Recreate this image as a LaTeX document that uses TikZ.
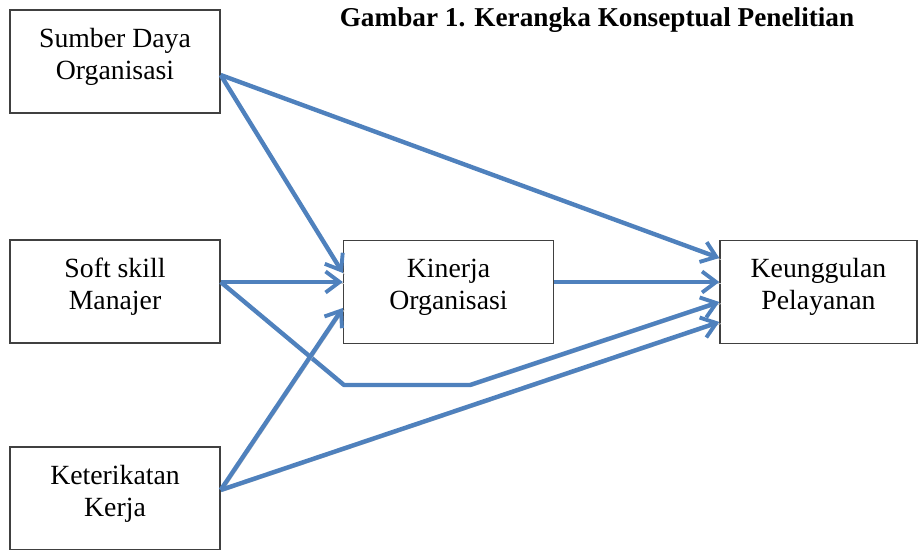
\documentclass[tikz,border=0pt]{standalone}
\usepackage{fontspec}
\setmainfont{Liberation Serif}
\usetikzlibrary{arrows.meta,calc}
\definecolor{linkblue}{HTML}{4F81BD}

\begin{document}
\begin{tikzpicture}[
    x=0.02cm, y=-0.02cm,
    box/.style={
        draw=black!75,
        line width=0.8pt,
        minimum width=4.2cm,
        minimum height=2.06cm,
        align=center,
        font=\fontsize{15.8}{18.1}\selectfont
    },
    link/.style={
        -{Straight Barb[length=8pt, width=12pt, line width=2.2pt]},
        line width=2.5pt, draw=linkblue, line join=round,
        preaction={draw=black!22, -, transform canvas={shift={(0.9pt,-0.9pt)}}}
    }
]
    \useasboundingbox (0,0) rectangle (918,550);

    \node[font=\fontsize{15.5}{18}\selectfont\bfseries] (judul) at (597,20) {Gambar 1. Kerangka Konseptual Penelitian};

    \node[box] (sdo) at (115,61.5) {Sumber Daya\\Organisasi\\[-9pt]};
    \node[box] (soft) at (115,291.5) {Soft skill\\Manajer\\[-9pt]};
    \node[box] (kerja) at (115,498.5) {Keterikatan\\Kerja\\[-9pt]};
    \node[box] (kinerja) at (448.5,292) {Kinerja\\Organisasi\\[-9pt]};
    \node[box, minimum width=3.94cm] (unggul) at (818.5,292) {Keunggulan\\Pelayanan\\[-9pt]};

    \coordinate (belok1) at (344,385);
    \coordinate (belok2) at (470,385);

    \draw[link] ($(sdo.east)+(0,13.5)$) -- ($(kinerja.west)+(0,-19)$);
    \draw[link] ($(sdo.east)+(0,13.5)$) -- ($(unggul.west)+(0,-34)$);
    \draw[link] ($(soft.east)+(0,-9.5)$) -- ($(kinerja.west)+(0,-10)$);
    \draw[link] ($(soft.east)+(0,-9.5)$) -- (belok1) -- (belok2) -- ($(unggul.west)+(0,10)$);
    \draw[link] ($(kerja.east)+(0,-8.5)$) -- ($(kinerja.west)+(0,16)$);
    \draw[link] ($(kerja.east)+(0,-8.5)$) -- ($(unggul.west)+(0,30)$);
    \draw[link] ($(kinerja.east)+(0,-10)$) -- ($(unggul.west)+(0,-10)$);
\end{tikzpicture}
\end{document}
